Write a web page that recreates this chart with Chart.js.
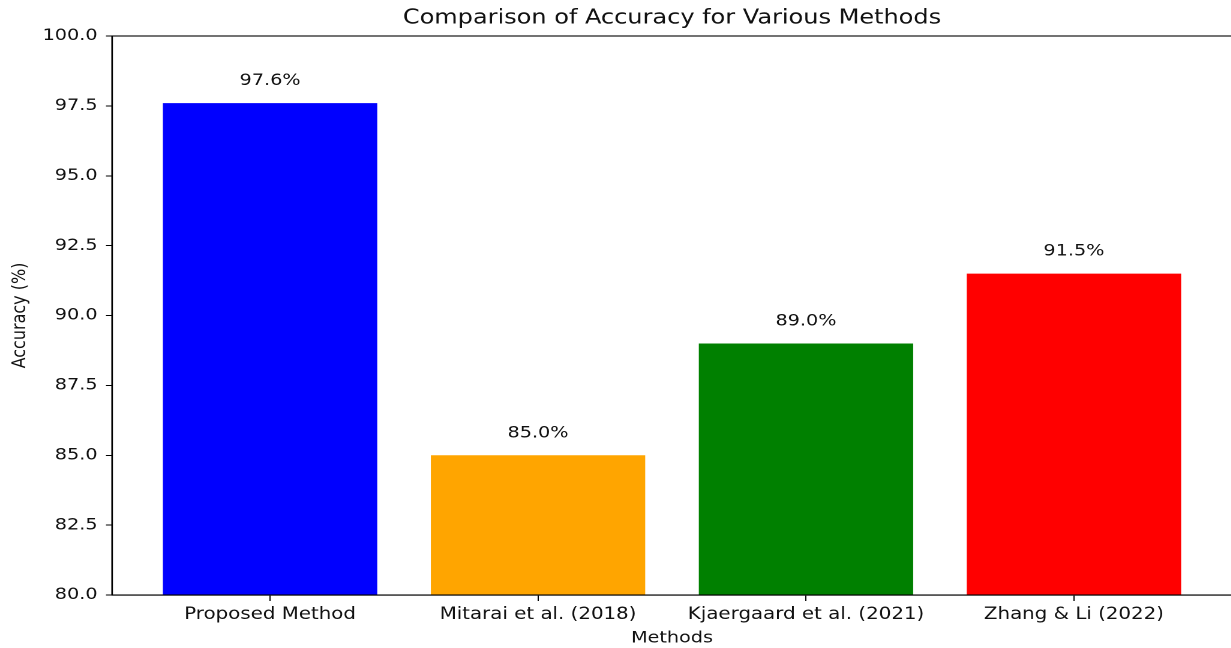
<!DOCTYPE html>
<html>
<head>
<meta charset="utf-8">
<script src="https://cdn.jsdelivr.net/npm/chart.js@4"></script>
<style>
  html, body { margin: 0; padding: 0; background: #fff; overflow: hidden; }
  #wrap { width: 1231px; height: 648px; overflow: hidden; position: relative; }
  /* the reference image is stretched horizontally, so stretch the whole canvas the same way */
  #stage { position: absolute; left: 0; top: 0; transform: scaleX(1.2); transform-origin: 0 0; }
</style>
</head>
<body>
<div id="wrap"><div id="stage"><canvas id="accChart" width="1035" height="648"></canvas></div></div>
<script>
// Chart data
const methods = ['Proposed Method', 'Mitarai et al. (2018)', 'Kjaergaard et al. (2021)', 'Zhang & Li (2022)'];
const accuracy = [97.6, 85.0, 89.0, 91.5];
const barColors = ['#0000ff', '#ffa500', '#008000', '#ff0000'];
const yTicks = [80, 82.5, 85, 87.5, 90, 92.5, 95, 97.5, 100];
const chartTitle = 'Comparison of Accuracy for Various Methods';

const font = "'DejaVu Sans', sans-serif";
const textColor = '#111';

// value labels above each bar
const barLabels = {
  id: 'barLabels',
  afterDatasetsDraw(chart) {
    const ctx = chart.ctx;
    const meta = chart.getDatasetMeta(0);
    ctx.save();
    ctx.font = '16px ' + font;
    ctx.fillStyle = textColor;
    ctx.textAlign = 'center';
    ctx.textBaseline = 'middle';
    meta.data.forEach((bar, i) => {
      ctx.fillText(accuracy[i].toFixed(1) + '%', bar.x, bar.y - 22);
    });
    ctx.restore();
  }
};

// matplotlib style box around the axes, title centred over the axes
const frame = {
  id: 'frame',
  afterDraw(chart) {
    const a = chart.chartArea;
    const ctx = chart.ctx;
    ctx.save();
    ctx.strokeStyle = '#000';
    ctx.lineWidth = 1.1;
    ctx.strokeRect(a.left, a.top, a.right - a.left, a.bottom - a.top);
    ctx.font = '20px ' + font;
    ctx.fillStyle = textColor;
    ctx.textAlign = 'center';
    ctx.textBaseline = 'middle';
    ctx.fillText(chartTitle, (a.left + a.right) / 2, 18.5);
    ctx.restore();
  }
};

new Chart(document.getElementById('accChart'), {
  type: 'bar',
  data: {
    datasets: [{
      data: accuracy.map((v, i) => ({ x: i, y: v })),
      backgroundColor: barColors,
      borderWidth: 0,
      barPercentage: 0.8,
      categoryPercentage: 1.0
    }]
  },
  options: {
    responsive: false,
    animation: false,
    devicePixelRatio: 2,
    layout: { padding: { left: 0, right: 8.3, top: 36, bottom: 0 } },
    plugins: {
      legend: { display: false },
      tooltip: { enabled: false },
      title: { display: false }
    },
    scales: {
      x: {
        type: 'linear',
        min: -0.59,
        max: 3.59,
        offset: false,
        afterBuildTicks: axis => { axis.ticks = methods.map((m, i) => ({ value: i })); },
        afterFit: axis => { axis.height = 53; },
        grid: { display: true, drawOnChartArea: false, drawTicks: true, tickLength: 6, color: '#000', offset: false },
        border: { display: true, color: '#000', width: 1.1 },
        ticks: {
          autoSkip: false,
          maxRotation: 0,
          padding: 4,
          color: textColor,
          font: { family: font, size: 16.5 },
          callback: v => methods[v]
        },
        title: {
          display: true,
          text: 'Methods',
          color: textColor,
          font: { family: font, size: 16 },
          padding: { top: 0, bottom: 0 }
        }
      },
      y: {
        min: 80,
        max: 100,
        afterBuildTicks: axis => { axis.ticks = yTicks.map(v => ({ value: v })); },
        afterFit: axis => { axis.width = 93.3; },
        grid: { display: true, drawOnChartArea: false, drawTicks: true, tickLength: 5, color: '#000' },
        border: { display: true, color: '#000', width: 1.1 },
        ticks: {
          padding: 7,
          color: textColor,
          font: { family: font, size: 16 },
          callback: v => v.toFixed(1)
        },
        title: {
          display: true,
          text: 'Accuracy (%)',
          color: textColor,
          font: { family: font, size: 16 },
          padding: { top: 7, bottom: 0 }
        }
      }
    }
  },
  plugins: [barLabels, frame]
});
</script>
</body>
</html>
